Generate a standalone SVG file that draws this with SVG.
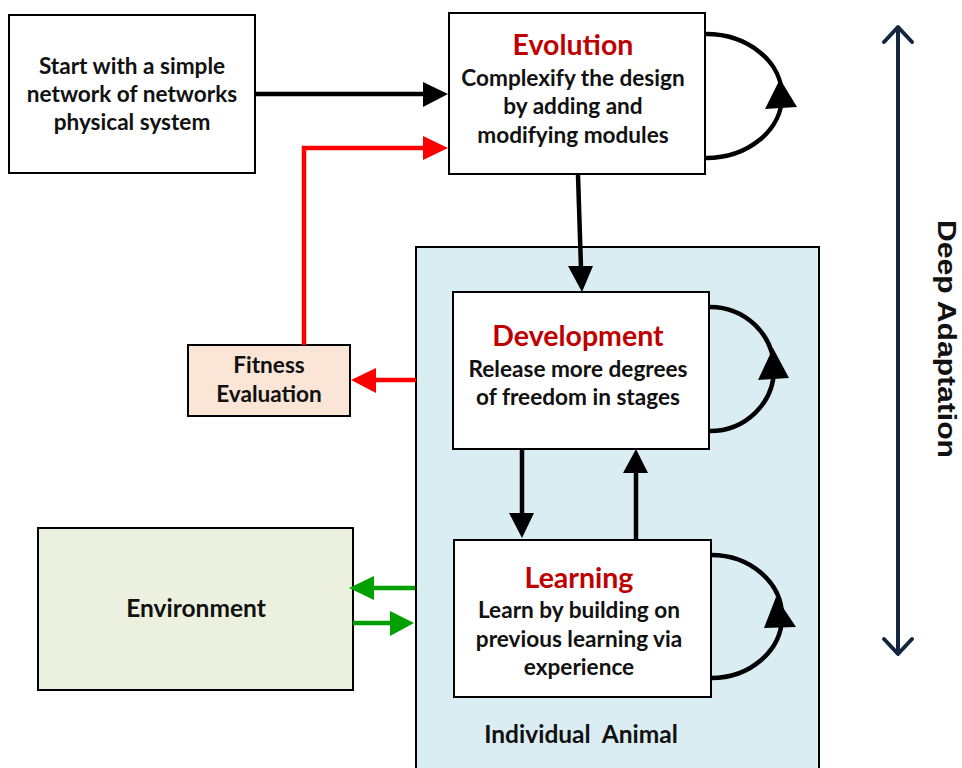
<svg xmlns="http://www.w3.org/2000/svg" width="962" height="768" viewBox="0 0 962 768">
<style>
text{font-family:Lato,"Noto Sans","Liberation Sans",sans-serif;font-weight:bold;text-anchor:middle;fill:#111}
.b{font-size:22.6px}
.t{font-size:28.5px;fill:#C00000}
.box{stroke:#000;stroke-width:2}
.blk{stroke:#000;stroke-width:4.5;fill:none}
.red{stroke:#FF0000;stroke-width:4.5;fill:none}
.grn{stroke:#00A000;stroke-width:4.5;fill:none}
.hb{fill:#000}
.hr{fill:#FF0000}
.hg{fill:#00A000}
</style>
<g id="individual-animal">
<rect x="416" y="247" width="403" height="530" fill="#DAEDF3" class="box"/>
<text x="581" y="743" style="white-space:pre;font-size:24.5px">Individual  Animal</text>
</g>
<g id="start">
<rect x="9" y="15" width="246" height="158" fill="#fff" class="box"/>
<text class="b" x="132" y="74">Start with a simple</text>
<text class="b" x="132" y="102">network of networks</text>
<text class="b" x="132" y="130">physical system</text>
</g>
<g id="evolution">
<rect x="449" y="13" width="256" height="161" fill="#fff" class="box"/>
<text class="t" x="573" y="55">Evolution</text>
<text class="b" x="573" y="86">Complexify the design</text>
<text class="b" x="573" y="114">by adding and</text>
<text class="b" x="573" y="143">modifying modules</text>
</g>
<g id="development">
<rect x="453" y="292" width="256" height="157" fill="#fff" class="box"/>
<text class="t" x="578" y="346">Development</text>
<text class="b" x="578" y="377">Release more degrees</text>
<text class="b" x="578" y="405">of freedom in stages</text>
</g>
<g id="learning">
<rect x="454" y="540" width="257" height="157" fill="#fff" class="box"/>
<text class="t" x="579" y="588">Learning</text>
<text class="b" x="579" y="618">Learn by building on</text>
<text class="b" x="579" y="647">previous learning via</text>
<text class="b" x="579" y="675">experience</text>
</g>
<g id="fitness">
<rect x="188" y="345" width="162" height="71" fill="#FBE5D6" class="box"/>
<text class="b" x="269" y="373">Fitness</text>
<text class="b" x="269" y="402">Evaluation</text>
</g>
<g id="environment">
<rect x="38" y="528" width="315" height="162" fill="#EBF1DE" class="box"/>
<text x="196" y="617" style="font-size:24.5px">Environment</text>
</g>
<g id="deep-adaptation">
<line x1="898" y1="28" x2="898" y2="653" stroke="#14253F" stroke-width="4"/>
<polyline points="884,42 898,27 912,42" fill="none" stroke="#14253F" stroke-width="4" stroke-linecap="round" stroke-linejoin="round"/>
<polyline points="884,639 898,654 912,639" fill="none" stroke="#14253F" stroke-width="4" stroke-linecap="round" stroke-linejoin="round"/>
<text x="938" y="339" transform="rotate(90 938 339)" textLength="238" lengthAdjust="spacingAndGlyphs" style="font-family:'Liberation Sans',Arial,sans-serif;font-size:25px;fill:#111">Deep Adaptation</text>
</g>
<g id="connectors">
<line class="blk" x1="255" y1="94" x2="424" y2="94"/>
<polygon class="hb" points="423,82 448,94 423,107"/>
<polyline class="red" points="304,345 304,148 424,148"/>
<polygon class="hr" points="423,136 448,148 423,160"/>
<line class="blk" x1="578" y1="175" x2="581" y2="268"/>
<polygon class="hb" points="568,266 593,266 582,292"/>
<line class="red" x1="416" y1="380" x2="374" y2="380"/>
<polygon class="hr" points="376,368 351,380 376,393"/>
<line class="grn" x1="415" y1="588" x2="372" y2="588"/>
<polygon class="hg" points="374,576 349,588 374,600"/>
<line class="grn" x1="353" y1="623" x2="392" y2="623"/>
<polygon class="hg" points="390,611 414,623 390,636"/>
<line class="blk" x1="522" y1="449" x2="522" y2="515"/>
<polygon class="hb" points="509,513 534,513 522,538"/>
<line class="blk" x1="636" y1="539" x2="636" y2="471"/>
<polygon class="hb" points="623,473 648,473 636,449"/>
<path class="blk" d="M706,34 A76,62 0 0 1 706,158"/>
<polygon class="hb" points="780,79 765,109 797,107"/>
<path class="blk" d="M710,307 A64,62 0 0 1 710,431"/>
<polygon class="hb" points="773,348 758,380 789,378"/>
<path class="blk" d="M711,555 A71,61.5 0 0 1 711,678"/>
<polygon class="hb" points="776,597 764,628 796,627"/>
</g>
</svg>
